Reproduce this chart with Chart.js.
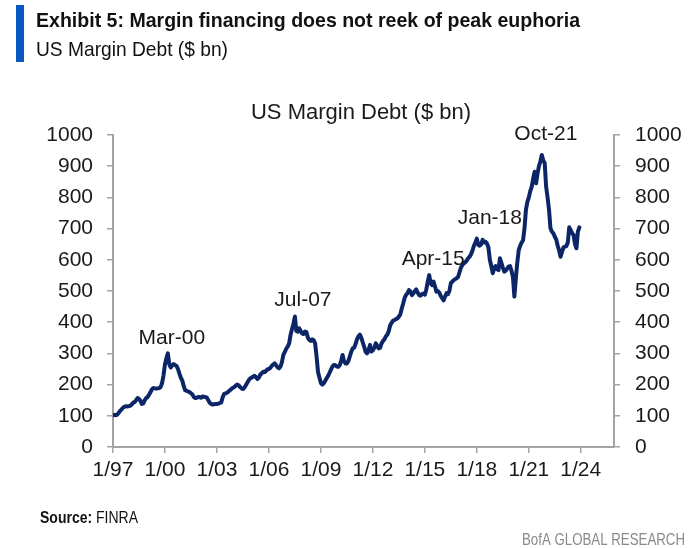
<!DOCTYPE html>
<html><head><meta charset="utf-8">
<script src="https://cdn.jsdelivr.net/npm/chart.js@4.4.1/dist/chart.umd.min.js"></script>
<style>
html,body{margin:0;padding:0;background:#fff;}
#wrap{position:relative;width:699px;height:548px;overflow:hidden;}
canvas{position:absolute;left:0;top:0;}
</style></head>
<body><div id="wrap"><canvas id="c" width="699" height="548"></canvas></div>
<script>
// ---- data (monthly, Jan 1997 .. Dec 2023, $ bn) ----
const startYear = 1997;
const marginDebt = [
  102,103,102,104,110,116,121,126,129,131,130,131, // 1997
  132,136,142,144,150,157,154,148,138,140,150,157, // 1998
  160,168,176,185,189,188,187,188,189,192,205,230, // 1999
  265,285,300,265,255,262,266,262,260,250,235,222, // 2000
  213,195,182,180,178,176,172,168,160,157,158,160, // 2001
  160,158,162,161,160,158,150,142,138,136,137,138, // 2002
  138,139,141,143,160,170,172,174,178,182,186,190, // 2003
  192,196,200,198,192,188,186,190,198,206,214,220, // 2004
  222,226,228,224,218,222,232,236,241,240,244,249, // 2005
  250,254,260,265,268,262,255,252,258,272,295,305, // 2006
  315,322,332,360,378,395,418,372,370,380,372,364, // 2007
  362,370,368,350,343,340,345,342,332,290,240,222, // 2008
  205,200,204,212,220,228,238,248,258,263,262,258, // 2009
  257,262,275,295,275,268,268,275,290,305,316,318, // 2010
  330,345,355,360,350,335,321,305,300,311,327,306, // 2011
  310,318,332,325,316,318,332,340,345,355,360,372, // 2012
  390,398,405,407,410,412,418,425,444,460,478,488, // 2013
  493,503,498,487,492,500,505,495,487,485,490,492, // 2014
  488,505,530,551,525,519,530,515,498,500,495,484, // 2015
  477,470,482,493,490,500,525,530,535,538,541,545, // 2016
  560,575,583,589,592,598,605,610,618,630,645,655, // 2017
  668,648,645,650,664,656,658,652,640,600,580,557, // 2018
  572,580,570,567,605,590,575,562,565,572,578,580, // 2019
  565,545,482,540,590,631,645,655,663,700,760,786, // 2020
  800,820,834,860,882,845,875,900,915,936,918,910, // 2021
  834,800,760,701,690,685,674,665,645,630,610,625, // 2022
  640,642,644,655,704,695,685,680,650,637,690,704  // 2023
];
const axisEndMonth = 347;                 // Dec 2025
const xTickMonths = [0,36,72,108,144,180,216,252,288,324];
const xTickLabels = ['1/97','1/00','1/03','1/06','1/09','1/12','1/15','1/18','1/21','1/24'];
const yMin = 0, yMax = 1000, yStep = 100;
const peakLabels = ['Mar-00','Jul-07','Apr-15','Jan-18','Oct-21'];
const peakMonths = [38,126,219,252,297];

// ---- styles ----
const peakLabelStyle = [
  {dx:4, dy:9}, {dx:8, dy:11}, {dx:4, dy:10}, {dx:13, dy:15}, {dx:4, dy:15}
];
const NAVY = '#0b2566';
const AXIS = '#a3a3a3';
const TXT = '#1a1a1a';
const FONT = '"Liberation Sans", Arial, sans-serif';

const points = marginDebt.map((v, i) => ({x: i, y: v}));

// draw text horizontally squeezed to a target width (emulates a condensed face)
function fitText(ctx, parts, x, y, targetW, align) {
  let total = 0;
  const widths = parts.map(p => { ctx.font = p.font; const w = ctx.measureText(p.text).width; total += w; return w; });
  const sx = targetW / total;
  ctx.save();
  const x0 = align === 'right' ? x - targetW : x;
  ctx.translate(x0, y);
  ctx.scale(sx, 1);
  ctx.textAlign = 'left';
  let cx = 0;
  parts.forEach((p, i) => { ctx.font = p.font; ctx.fillText(p.text, cx, 0); cx += widths[i]; });
  ctx.restore();
}

const textPlugin = {
  id: 'texts',
  afterDraw(chart) {
    const ctx = chart.ctx;
    const xs = chart.scales.x, ys = chart.scales.y;
    ctx.save();
    // peak annotations
    ctx.fillStyle = TXT;
    ctx.font = '21px ' + FONT;
    ctx.textAlign = 'center';
    ctx.textBaseline = 'alphabetic';
    peakLabels.forEach((lab, k) => {
      const m = peakMonths[k];
      const st = peakLabelStyle[k];
      const px = xs.getPixelForValue(m) + st.dx;
      const py = ys.getPixelForValue(marginDebt[m]) - st.dy;
      ctx.fillText(lab, px, py);
    });
    // chart title
    ctx.font = '22px ' + FONT;
    ctx.fillText('US Margin Debt ($ bn)', 361, 119);
    // header
    ctx.fillStyle = '#0a56c2';
    ctx.fillRect(16, 5, 8, 57);
    ctx.fillStyle = '#111';
    fitText(ctx, [{text: 'Exhibit 5: Margin financing does not reek of peak euphoria', font: 'bold 21px ' + FONT}], 36, 27, 544, 'left');
    fitText(ctx, [{text: 'US Margin Debt ($ bn)', font: '21px ' + FONT}], 36, 56, 192, 'left');
    // footer
    fitText(ctx, [{text: 'Source: ', font: 'bold 16px ' + FONT}, {text: 'FINRA', font: '16px ' + FONT}], 40, 523, 98, 'left');
    ctx.fillStyle = '#8a8a8a';
    fitText(ctx, [{text: 'BofA GLOBAL RESEARCH', font: '17px ' + FONT}], 685, 545, 163, 'right');
    ctx.restore();
  }
};

const yAxis = (pos, pad, width) => ({
  type: 'linear', position: pos, min: yMin, max: yMax,
  ticks: {stepSize: yStep, padding: pad, color: TXT, font: {family: FONT, size: 21},
    callback: v => String(v)},
  grid: {drawOnChartArea: false, drawTicks: true, tickLength: 6, color: AXIS, lineWidth: 1.5},
  border: {display: true, color: AXIS, width: 2},
  afterFit: s => { s.width = width; }
});

new Chart(document.getElementById('c'), {
  type: 'line',
  data: {datasets: [{
    data: points, borderColor: NAVY, borderWidth: 4, pointRadius: 0,
    tension: 0, borderJoinStyle: 'round', borderCapStyle: 'round', fill: false, yAxisID: 'y'
  }]},
  options: {
    responsive: false, animation: false, devicePixelRatio: 1,
    layout: {padding: {top: 135, left: 0, right: 0, bottom: 0}},
    plugins: {legend: {display: false}, tooltip: {enabled: false}, title: {display: false}},
    scales: {
      x: {
        type: 'linear', min: 0, max: axisEndMonth,
        afterBuildTicks: s => { s.ticks = xTickMonths.map(v => ({value: v})); },
        ticks: {autoSkip: false, maxRotation: 0, padding: 5, color: TXT,
          font: {family: FONT, size: 21},
          callback: (v, i) => xTickLabels[i]},
        grid: {drawOnChartArea: false, drawTicks: true, tickLength: 6, color: AXIS, lineWidth: 1.5},
        border: {display: true, color: AXIS, width: 2},
        afterFit: s => { s.height = 101; }
      },
      y: yAxis('left', 14, 113),
      y2: yAxis('right', 15, 85)
    }
  },
  plugins: [textPlugin]
});
</script></body></html>
